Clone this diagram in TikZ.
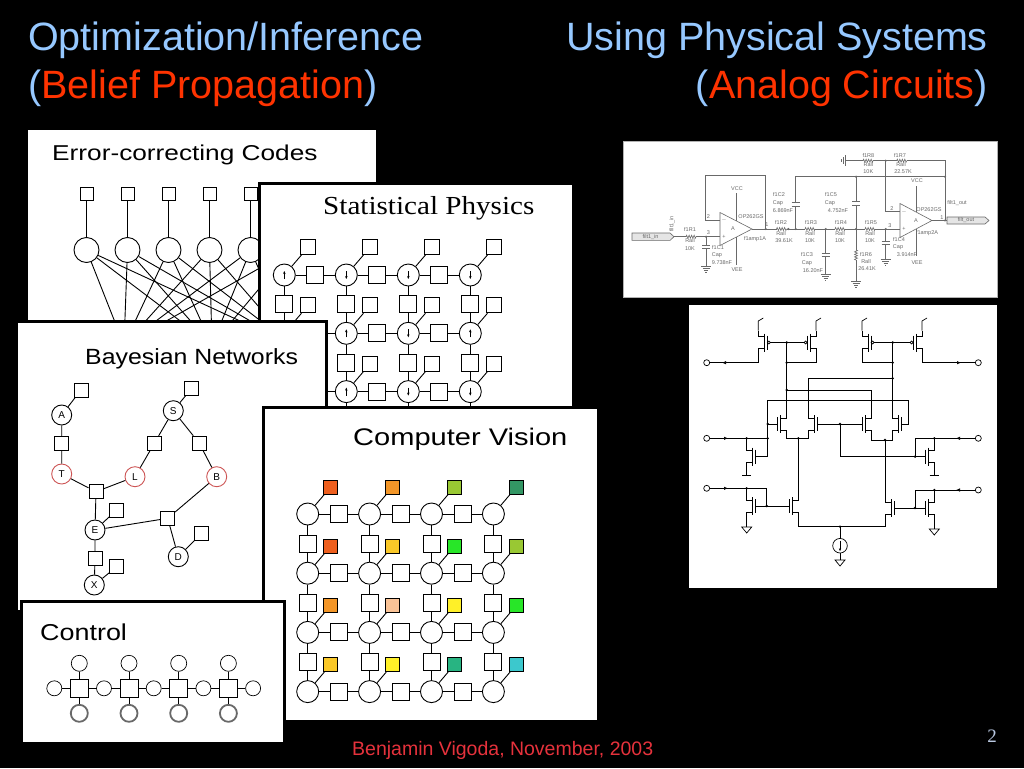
\documentclass[tikz,border=0pt]{standalone}
\usepackage{fontspec}
\setmainfont{Liberation Sans}
\newfontfamily\timesfont{Liberation Serif}
\usetikzlibrary{arrows.meta,decorations.pathmorphing}

\definecolor{titleblue}{RGB}{150,200,255}
\definecolor{titlered}{RGB}{255,51,0}
\definecolor{footred}{RGB}{230,50,60}
\definecolor{pagegray}{RGB}{185,200,225}
\definecolor{bnred}{RGB}{205,85,85}
\definecolor{circgray}{RGB}{105,105,105}
\definecolor{cvred}{RGB}{238,95,30}
\definecolor{cvorange}{RGB}{243,150,40}
\definecolor{cvlime}{RGB}{153,200,51}
\definecolor{cvdkgreen}{RGB}{51,150,100}
\definecolor{cvgold}{RGB}{250,200,40}
\definecolor{cvgreen}{RGB}{40,230,40}
\definecolor{cvpeach}{RGB}{250,195,150}
\definecolor{cvyellow}{RGB}{255,240,40}
\definecolor{cvteal}{RGB}{40,180,130}
\definecolor{cvcyan}{RGB}{60,200,205}

\tikzset{
  panel/.style={draw=black,line width=3pt,fill=white},
  var/.style={draw,circle,inner sep=0pt,minimum size=#1,line width=0.9pt,fill=white},
  var/.default=22,
  fac/.style={draw,rectangle,inner sep=0pt,minimum size=#1,line width=0.9pt,fill=white},
  fac/.default=16,
  link/.style={line width=0.9pt},
  spin/.style={-{Stealth[length=3pt,width=2.5pt]},line width=0.5pt},
  bnvar/.style={var=20,font=\fontsize{10}{10}\selectfont},
  slidetitle/.style={inner sep=0pt,text=titleblue,font=\fontsize{39.5}{40}\selectfont},
  paneltitle/.style={anchor=base west,inner sep=0pt,font=\fontsize{#1}{#1}\selectfont},
  ftext/.style={inner sep=0pt,text=circgray,font=\fontsize{5.5}{5.5}\selectfont},
  res/.style={decorate,decoration={zigzag,amplitude=1.5pt,segment length=2.5pt}},
  nfet/.pic={
    \draw (-10,0) -- (-3,0);
    \draw (-3,-7) -- (-3,7);
    \draw (0,-9) -- (0,9);
    \draw (0,-6) -- (6,-6) -- (6,-12) (0,6) -- (6,6) -- (6,12);
  },
  pfet/.pic={
    \draw (-10,0) -- (-6,0);
    \draw (-4.5,0) circle (1.5);
    \draw (-3,-7) -- (-3,7);
    \draw (0,-9) -- (0,9);
    \draw (0,-6) -- (6,-6) -- (6,-12) (0,6) -- (6,6) -- (6,12);
  },
  gnd/.pic={
    \draw (-5,0) -- (5,0) (-3.5,2) -- (3.5,2) (-2,4) -- (2,4) (-0.6,6) -- (0.6,6);
  },
  sink/.pic={
    \draw (-5,0) -- (5,0) -- (0,6) -- cycle;
  }
}

\begin{document}
\begin{tikzpicture}[x=1pt,y=-1pt]

\useasboundingbox (0,0) rectangle (1024,768);
\fill[black] (0,0) rectangle (1024,768);

% slide titles
\node[slidetitle,anchor=base west] (titleA) at (28,51) {Optimization/Inference};
\node[slidetitle,anchor=base west] (titleB) at (28,98) {(\textcolor{titlered}{Belief Propagation})};
\node[slidetitle,anchor=base east] (titleC) at (988,51) {Using Physical Systems};
\node[slidetitle,anchor=base east] (titleD) at (988,98) {(\textcolor{titlered}{Analog Circuits})};

% error-correcting codes
\draw[panel,line width=1pt] (27,129) rectangle (376,345);
\node[paneltitle=21.5,xscale=1.22] (ecTitle) at (52,160.5) {Error-correcting Codes};
\foreach \i in {1,...,6} {
  \node[fac=13] (ecf-\i) at ({45.5+41*\i},193.5) {};
  \node[var=25] (ecv-\i) at ({45.5+41*\i},250) {};
  \draw[link] (ecf-\i) -- (ecv-\i);
}
\coordinate (eck-1) at (124,345);
\coordinate (eck-2) at (212,345);
\coordinate (eck-3) at (292,345);
\foreach \i in {1,...,6} \foreach \k in {1,2,3} \draw[link] (ecv-\i) -- (eck-\k);

% statistical physics
\draw[panel] (259.5,183.5) rectangle (573,415);
\node[paneltitle=26,font=\timesfont\fontsize{26}{26}\selectfont,xscale=1.12] (spTitle) at (323,214) {Statistical Physics};
\foreach \c in {0,...,3} {
  \foreach \r in {0,...,2} {
    \node[var] (spv-\c-\r) at ({284.3+62*\c},{275+58.3*\r}) {};
    \node[fac=15] (spo-\c-\r) at ({308.3+62*\c},{247+58.3*\r}) {};
    \draw[link] (spv-\c-\r) -- (spo-\c-\r);
  }
}
\foreach \c in {0,1,2} {
  \foreach \r in {0,...,2} {
    \pgfmathtruncatemacro\cn{\c+1}
    \node[fac=17] (sph-\c-\r) at ({315.3+62*\c},{275+58.3*\r}) {};
    \draw[link] (spv-\c-\r) -- (sph-\c-\r) -- (spv-\cn-\r);
  }
}
\foreach \c in {0,...,3} {
  \foreach \r in {0,1} {
    \pgfmathtruncatemacro\rn{\r+1}
    \node[fac=17] (spw-\c-\r) at ({284.3+62*\c},{304.2+58.3*\r}) {};
    \draw[link] (spv-\c-\r) -- (spw-\c-\r) -- (spv-\c-\rn);
  }
  \draw[link] (spv-\c-2) -- ++(0,30);
}
\foreach \c/\r in {0/0,0/1,1/1,3/1,1/2}
  \draw[spin] ([yshift=-4pt]spv-\c-\r.center) -- ([yshift=4pt]spv-\c-\r.center);
\foreach \c/\r in {1/0,2/0,3/0,2/1,0/2,2/2,3/2}
  \draw[spin] ([yshift=4pt]spv-\c-\r.center) -- ([yshift=-4pt]spv-\c-\r.center);

% bayesian networks
\draw[panel] (16.5,321.5) rectangle (326.5,611);
\node[paneltitle=22,xscale=1.13] (bnTitle) at (85,364) {Bayesian Networks};
\node[bnvar] (bnA) at (61.7,415) {A};
\node[bnvar,draw=bnred] (bnT) at (61.7,474) {T};
\node[bnvar,draw=bnred] (bnL) at (135,476.7) {L};
\node[bnvar,draw=bnred] (bnB) at (216.7,476.7) {B};
\node[bnvar] (bnS) at (173.3,410.7) {S};
\node[bnvar] (bnE) at (95,530) {E};
\node[bnvar] (bnD) at (178.3,556.7) {D};
\node[bnvar] (bnX) at (94.3,585) {X};
\node[fac=14] (fA) at (81,390) {};
\node[fac=14] (fAT) at (61.7,443.3) {};
\node[fac=14] (fS) at (191.7,388.3) {};
\node[fac=14] (fSL) at (154.3,443.3) {};
\node[fac=14] (fSB) at (199.3,443.3) {};
\node[fac=14] (fTLE) at (96,491.7) {};
\node[fac=14] (fE) at (116.7,510) {};
\node[fac=14] (fEBD) at (167.7,518.3) {};
\node[fac=14] (fD) at (201.7,533.3) {};
\node[fac=14] (fEX) at (95,558.3) {};
\node[fac=14] (fX) at (116.7,566.7) {};
\draw[link] (fA) -- (bnA) -- (fAT) -- (bnT) -- (fTLE) -- (bnL) -- (fSL) -- (bnS) -- (fSB) -- (bnB) -- (fEBD) -- (bnE);
\draw[link] (fS) -- (bnS);
\draw[link] (fTLE) -- (bnE) -- (fEX) -- (bnX) -- (fX);
\draw[link] (fE) -- (bnE);
\draw[link] (fEBD) -- (bnD) -- (fD);

% computer vision
\draw[panel] (263.5,407.5) rectangle (598,721.5);
\node[paneltitle=24,xscale=1.21] (cvTitle) at (353,445.5) {Computer Vision};
\foreach \c in {0,...,3} {
  \foreach \r in {0,...,3} {
    \node[var] (cv-\c-\r) at ({307.7+61.9*\c},{514+59.2*\r}) {};
  }
}
\foreach \c in {0,1,2} {
  \foreach \r in {0,...,3} {
    \pgfmathtruncatemacro\cn{\c+1}
    \node[fac=17] (cvh-\c-\r) at ({338.65+61.9*\c},{514+59.2*\r}) {};
    \draw[link] (cv-\c-\r) -- (cvh-\c-\r) -- (cv-\cn-\r);
  }
}
\foreach \c in {0,...,3} {
  \foreach \r in {0,1,2} {
    \pgfmathtruncatemacro\rn{\r+1}
    \node[fac=17] (cvw-\c-\r) at ({307.7+61.9*\c},{543.6+59.2*\r}) {};
    \draw[link] (cv-\c-\r) -- (cvw-\c-\r) -- (cv-\c-\rn);
  }
}
\foreach \c/\r/\col in {0/0/cvred,1/0/cvorange,2/0/cvlime,3/0/cvdkgreen,
                        0/1/cvred,1/1/cvgold,2/1/cvgreen,3/1/cvlime,
                        0/2/cvorange,1/2/cvpeach,2/2/cvyellow,3/2/cvgreen,
                        0/3/cvgold,1/3/cvyellow,2/3/cvteal,3/3/cvcyan} {
  \node[fac=14,fill=\col] (cvo-\c-\r) at ({330.7+61.9*\c},{487+59.2*\r}) {};
  \draw[link] (cv-\c-\r) -- (cvo-\c-\r);
}

% control
\draw[panel] (21.5,601.5) rectangle (284.5,743);
\node[paneltitle=23,xscale=1.17] (ctTitle) at (40,640) {Control};
\foreach \i in {0,...,3} {
  \node[fac=18,line width=0.7pt] (ctq-\i) at ({79.3+49.7*\i},688.3) {};
  \node[var=16,line width=0.7pt] (ctt-\i) at ({79.3+49.7*\i},663.3) {};
  \node[var=17,draw=circgray,line width=1.8pt] (ctb-\i) at ({79.3+49.7*\i},713.3) {};
}
\foreach \i in {0,...,4}
  \node[var=15,line width=0.7pt] (ctc-\i) at ({54.3+49.7*\i},688.3) {};
\foreach \i in {0,...,3} {
  \pgfmathtruncatemacro\j{\i+1}
  \draw[line width=0.7pt] (ctc-\i) -- (ctq-\i) -- (ctc-\j);
  \draw[line width=0.7pt] (ctt-\i) -- (ctq-\i) -- (ctb-\i);
}

% filter circuit
\draw[fill=white,draw=black!30,line width=1pt] (623,141) rectangle (997,297);
\begin{scope}[color=circgray,line width=0.6pt]
  \draw[fill=black!10] (632,233) -- (670,233) -- (674,236.7) -- (670,240.4) -- (632,240.4) -- cycle;
  \draw[fill=black!10] (947,217) -- (985,217) -- (989,220.5) -- (985,224) -- (947,224) -- cycle;
  % first stage
  \draw (674,236.7) -- (686,236.7) (696,236.7) -- (720,236.7);
  \draw[res] (686,236.7) -- (696,236.7);
  \draw (706,236.7) -- (706,245) (702,245) -- (710,245) (702,248.5) -- (710,248.5) (706,248.5) -- (706,266);
  \draw (720,212.5) -- (752,229) -- (720,245.5) -- cycle;
  \draw (720,220.5) -- (705,220.5) -- (705,175) -- (765.7,175) -- (765.7,229);
  \draw (736,220.7) -- (736,193) (736,237.3) -- (736,265);
  % ladder
  \draw (752,229) -- (776.5,229) (786.5,229) -- (805,229) (815,229) -- (835,229) (845,229) -- (865,229) (875,229) -- (900,229);
  \foreach \x in {776.5,805,835,865} \draw[res] (\x,229) -- ++(10,0);
  \draw (795.7,229) -- (795.7,206) (791.7,206) -- (799.7,206) (791.7,202.5) -- (799.7,202.5) (795.7,202.5) -- (795.7,176.7) -- (945,176.7);
  \draw (825.7,229) -- (825.7,253) (821.7,253) -- (829.7,253) (821.7,256.5) -- (829.7,256.5) (825.7,256.5) -- (825.7,274);
  \draw (856,229) -- (856,205) (852,205) -- (860,205) (852,201.5) -- (860,201.5) (856,201.5) -- (856,176.7);
  \draw (856,229) -- (856,250) (856,260) -- (856,281);
  \draw[res] (856,250) -- (856,260);
  \draw (885.7,229) -- (885.7,241) (881.7,241) -- (889.7,241) (881.7,244.5) -- (889.7,244.5) (885.7,244.5) -- (885.7,259);
  % second stage
  \draw (900,203.5) -- (932,220.5) -- (900,237.5) -- cycle;
  \draw (900,211.7) -- (885.7,211.7) -- (885.7,160.7);
  \draw (916,212) -- (916,186) (916,229) -- (916,256);
  \draw (932,220.5) -- (947,220.5);
  \draw (845,160.7) -- (863,160.7) (873,160.7) -- (896.7,160.7) (906.7,160.7) -- (945,160.7) -- (945,220.5);
  \draw[res] (863,160.7) -- (873,160.7);
  \draw[res] (896.7,160.7) -- (906.7,160.7);
  \draw (845,155) -- (845,166.4) (843,157) -- (843,164.4) (841,159) -- (841,162.4);
  \foreach \x/\y in {706/266,825.7/274,856/281,885.7/259} \pic at (\x,\y) {gnd};
  \foreach \x/\y in {706/236.7,765.7/229,788.3/229,795.7/229,825.7/229,856/229,885.7/229,856/176.7,885.7/160.7,945/176.7,945/220.5}
    \fill (\x,\y) circle (1.2);
  % labels
  \foreach \x/\y/\t in {650.5/236.7/filt1\_in, 690/230/f1R1, 690/241/Rall, 690/248.3/10K,
      718/247.5/f1C1, 717/255/Cap, 722/262.3/9.738nF, 737/188.5/VCC, 737/270/VEE,
      751/216.7/OP262GS, 755/239.5/f1amp1A, 733/229/A, 724/220.5/$-$, 724/237/+,
      708.5/217/2, 708.5/233/3, 767/225/1,
      779/195/f1C2, 778/203/Cap, 783/210.7/6.869nF,
      781/223/f1R2, 781/233.5/Rall, 784/240.5/39.61K,
      811/223/f1R3, 810/233.5/Rall, 810/240.5/10K,
      841/223/f1R4, 840/233.5/Rall, 840/240.5/10K,
      871/223/f1R5, 870/233.5/Rall, 870/240.5/10K,
      807/255/f1C3, 807/263/Cap, 813/270.3/16.20nF,
      831/195/f1C5, 830/203/Cap, 838/210.7/4.752nF,
      866/255/f1R6, 866/262/Rall, 867/268.5/26.41K,
      899/239.5/f1C4, 898/247.3/Cap, 907/255/3.914nF,
      868.3/155.5/f1R8, 868.3/164.7/Rall, 868.3/172/10K,
      900/155.5/f1R7, 901/164.7/Rall, 903/172/22.57K,
      917/181/VCC, 917/262.7/VEE, 929/209.5/OP262GS, 927/233.5/f1amp2A,
      916/220.5/A, 904/212/$-$, 904/229/+, 892/208.5/2, 890/226/3, 942/217.5/1,
      957/203.3/filt1\_out, 966/220.5/filt\_out}
    \node[ftext] at (\x,\y) {\t};
  \node[ftext,rotate=90] at (672,224) {filt1\_in};
\end{scope}

% transistor circuit
\fill[white] (689,305) rectangle (997,588);
\begin{scope}[line width=0.7pt]
  \pic[xscale=-1] at (764.3,342.5) {pfet};
  \pic at (810,342.5) {pfet};
  \pic[xscale=-1] at (868,342.5) {pfet};
  \pic at (916,342.5) {pfet};
  \foreach \x in {758.3,816,862,922} \draw (\x,330.5) -- (\x,321) -- ++(5,-3);
  \pic at (780.7,424) {nfet};
  \pic[xscale=-1] at (814.3,424) {nfet};
  \pic at (865.7,424) {nfet};
  \pic[xscale=-1] at (898.7,424) {nfet};
  \pic[xscale=-1] at (752.7,456.7) {nfet};
  \pic[xscale=-1] at (752.7,506) {nfet};
  \pic at (928.3,456.7) {nfet};
  \pic at (928.3,508) {nfet};
  \pic at (792.3,506) {nfet};
  \pic[xscale=-1] at (891,508) {nfet};
  % mirrors
  \draw (774.3,342.5) -- (800,342.5) (786.7,342.5) -- (786.7,412);
  \draw (816,354.5) -- (816,362.7) -- (786.7,362.7);
  \draw[-{Latex[length=4pt,width=3.5pt]}] (758.3,354.5) -- (758.3,362.7) -- (722,362.7);
  \draw (724,362.7) -- (709.7,362.7);
  \draw (878,342.5) -- (906,342.5) (892.7,342.5) -- (892.7,412);
  \draw (862,354.5) -- (862,362.7) -- (892.7,362.7);
  \draw[-{Latex[length=4pt,width=3.5pt]}] (922,354.5) -- (922,362.7) -- (961,362.7);
  \draw (959,362.7) -- (975.3,362.7);
  % cross wires
  \draw (786.7,390) -- (871.7,390) -- (871.7,412);
  \draw (892.7,378.3) -- (808.3,378.3) -- (808.3,412);
  \draw (770.7,424) -- (767.7,424) -- (767.7,400.7) -- (908.7,400.7) -- (908.7,424);
  % differential pairs
  \draw (786.7,436) -- (786.7,438.3) -- (808.3,438.3) -- (808.3,436) (798.3,438.3) -- (798.3,494);
  \draw (871.7,436) -- (871.7,440) -- (892.7,440) -- (892.7,436) (885,440) -- (885,496);
  \draw (824.3,424) -- (855.7,424) (840,424) -- (840,456.7) -- (918.3,456.7);
  % inputs
  \draw[-{Latex[length=4pt,width=3.5pt]}] (709.7,438.3) -- (728,438.3);
  \draw (726,438.3) -- (767.7,438.3) -- (767.7,424);
  \draw (746.7,438.3) -- (746.7,444.7) (762.7,456.7) -- (767.7,456.7) -- (767.7,438.3);
  \draw (746.7,468.7) -- (746.7,475) (742,475) -- (751.4,475);
  \draw[-{Latex[length=4pt,width=3.5pt]}] (709.7,488.3) -- (728,488.3);
  \draw (726,488.3) -- (766.7,488.3) -- (766.7,506) (746.7,488.3) -- (746.7,494);
  \draw (762.7,506) -- (782.3,506);
  \draw (746.7,518) -- (746.7,527);
  \draw[-{Latex[length=4pt,width=3.5pt]}] (975.3,438.3) -- (956,438.3);
  \draw (958,438.3) -- (915,438.3) -- (915,456.7) (934.3,438.3) -- (934.3,444.7);
  \draw (934.3,468.7) -- (934.3,475) (929.6,475) -- (939,475);
  \draw[-{Latex[length=4pt,width=3.5pt]}] (975.3,490) -- (956,490);
  \draw (958,490) -- (915,490) -- (915,508) (934.3,490) -- (934.3,496);
  \draw (901,508) -- (918.3,508);
  \draw (934.3,520) -- (934.3,529);
  % tail and current source
  \draw (798.3,518) -- (798.3,526.7) -- (885,526.7) -- (885,520);
  \draw (840,526.7) -- (840,538.4) (840,553) -- (840,560);
  \draw (840,545.7) circle (7.3);
  \draw[-{Latex[length=3pt,width=2.5pt]}] (840,540.5) -- (840,551.5);
  \foreach \x/\y in {746.7/527,934.3/529,840/560} \pic at (\x,\y) {sink};
  \foreach \x/\y in {706.7/362.7,978.3/362.7,706.7/438.3,706.7/488.3,978.3/438.3,978.3/490}
    \draw (\x,\y) circle (3);
  \foreach \x/\y in {786.7/342.5,786.7/362.7,786.7/390,892.7/342.5,892.7/362.7,892.7/378.3,
                     767.7/424,767.7/438.3,746.7/438.3,746.7/488.3,766.7/506,798.3/438.3,
                     885/440,840/424,915/456.7,934.3/438.3,934.3/490,915/508,840/526.7}
    \fill (\x,\y) circle (1.3);
\end{scope}

% footer
\node[anchor=base west,inner sep=0pt,text=footred,font=\fontsize{19.5}{20}\selectfont] (footer) at (352,755) {Benjamin Vigoda, November, 2003};
\node[anchor=base east,inner sep=0pt,text=pagegray,font=\timesfont\fontsize{19}{19}\selectfont] (pageno) at (997,742) {2};

\end{tikzpicture}
\end{document}
